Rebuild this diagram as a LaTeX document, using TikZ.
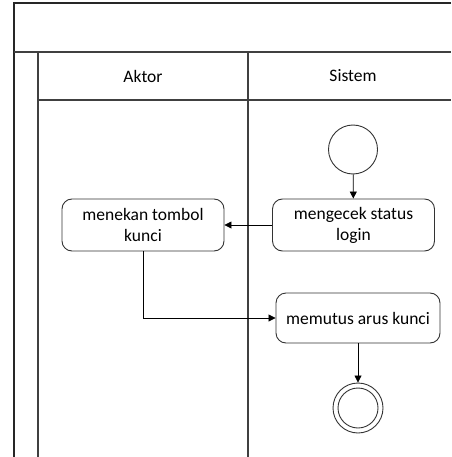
\documentclass[tikz,border=0pt]{standalone}
\usepackage{fontspec}
\setmainfont{Carlito}
\usetikzlibrary{arrows.meta}
\begin{document}
\begin{tikzpicture}[x=1pt,y=-1pt,
  lane/.style={draw=black!75,line width=1.3pt},
  action/.style={draw=black!80,line width=0.9pt,rounded corners=10pt,
    minimum width=162pt,minimum height=52pt,align=center,inner sep=2pt,
    font=\fontsize{17.5}{21}\selectfont},
  flow/.style={draw=black,line width=0.8pt,-{Triangle[length=7pt,width=7pt]}},
  lbl/.style={font=\fontsize{17.5}{21}\selectfont}]
  \useasboundingbox (0,0) rectangle (451,457);
  % swimlane frame
  \draw[lane,draw=black!85] (451,3) -- (14,3) -- (14,457);
  \draw[lane] (14,52) -- (451,52);
  \draw[lane] (38,52) -- (38,457);
  \draw[lane] (248,52) -- (248,457);
  \draw[lane] (38,100) -- (451,100);
  \node[lbl] (aktor) at (143,76) {Aktor};
  \node[lbl] (sistem) at (353,76) {Sistem};
  % activities
  \node[draw=black!80,line width=0.9pt,circle,minimum size=49pt,inner sep=0pt] (start) at (353,149.5) {};
  \node[action] (cek) at (353.5,225) {mengecek status\\login};
  \node[action] (tekan) at (143,225) {menekan tombol\\kunci};
  \node[action,minimum width=164pt,minimum height=50pt] (putus) at (358,318) {memutus arus kunci};
  \node[draw=black!80,line width=0.9pt,circle,minimum size=50pt,inner sep=0pt] (end) at (358,408) {};
  \node[draw=black!80,line width=0.9pt,circle,minimum size=40pt,inner sep=0pt] (endin) at (end) {};
  % control flow
  \draw[flow] (start) -- (cek);
  \draw[flow] (cek) -- (tekan);
  \draw[flow] (tekan.south) |- (putus.west);
  \draw[flow] (putus) -- (end);
\end{tikzpicture}
\end{document}
